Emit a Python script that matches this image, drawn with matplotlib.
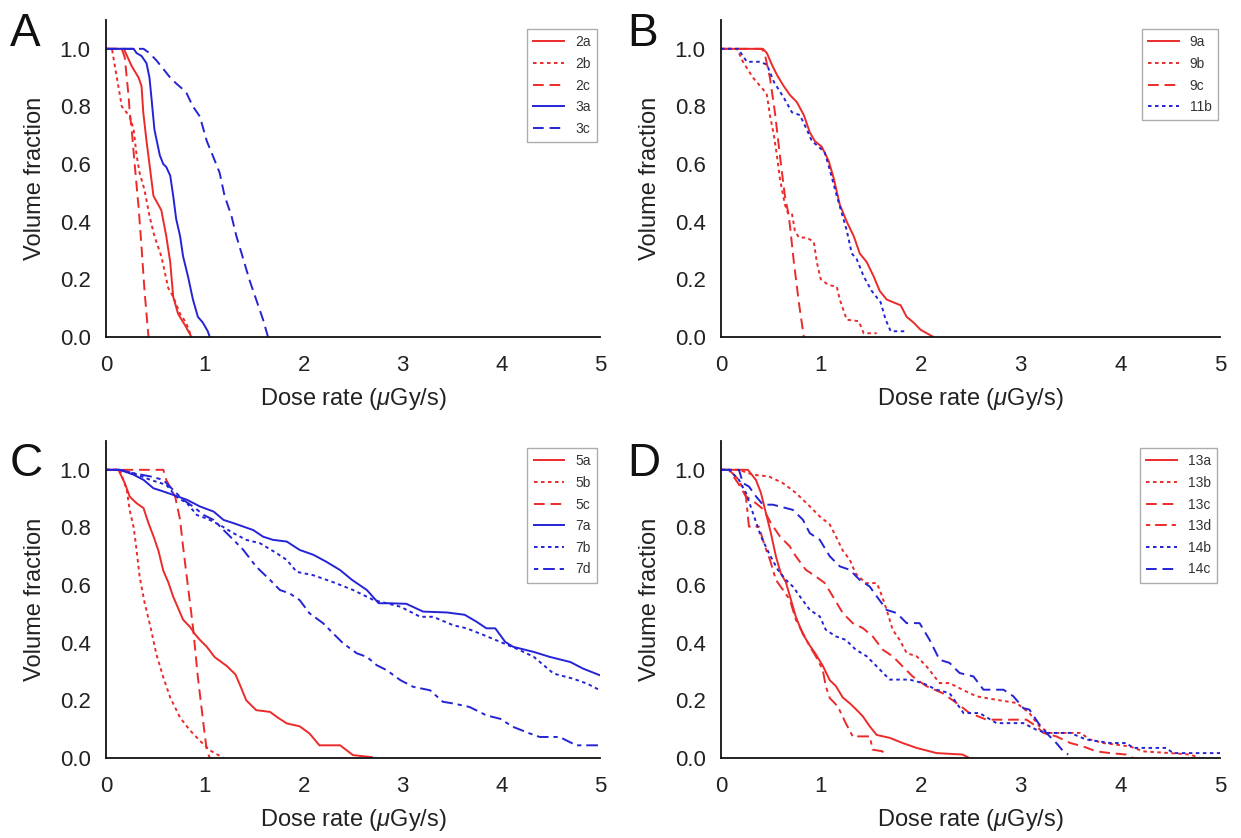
import matplotlib
matplotlib.use("Agg")
import matplotlib.pyplot as plt

plt.rcParams['font.family'] = ['Liberation Sans', 'DejaVu Sans']
plt.rcParams['mathtext.fontset'] = 'custom'
plt.rcParams['mathtext.rm'] = 'Liberation Sans'
plt.rcParams['mathtext.it'] = 'Liberation Sans:italic'

RED = '#ec2a2a'
BLUE = '#2424d6'

# ---------------- Panel A ----------------
a_2a_x = [0, 0.18, 0.26, 0.33, 0.36, 0.377, 0.41, 0.44, 0.48, 0.56, 0.61, 0.65, 0.68, 0.73, 0.81, 0.865]
a_2a_y = [1.0, 1.0, 0.94, 0.90, 0.87, 0.78, 0.68, 0.60, 0.49, 0.44, 0.35, 0.26, 0.14, 0.08, 0.035, 0.0]
a_2b_x = [0, 0.06, 0.16, 0.24, 0.28, 0.31, 0.34, 0.39, 0.44, 0.49, 0.56, 0.63, 0.68, 0.75, 0.81, 0.865]
a_2b_y = [1.0, 1.0, 0.80, 0.765, 0.72, 0.63, 0.57, 0.51, 0.42, 0.35, 0.28, 0.17, 0.14, 0.08, 0.05, 0.0]
a_2c_x = [0, 0.16, 0.19, 0.23, 0.24, 0.26, 0.29, 0.33, 0.36, 0.39, 0.43]
a_2c_y = [1.0, 1.0, 0.97, 0.83, 0.78, 0.72, 0.60, 0.45, 0.31, 0.16, 0.0]
a_3a_x = [0, 0.28, 0.31, 0.36, 0.41, 0.44, 0.46, 0.49, 0.545, 0.58, 0.61, 0.65, 0.68, 0.71, 0.75, 0.78, 0.83, 0.88, 0.93, 0.98, 1.03, 1.05]
a_3a_y = [1.0, 1.0, 0.985, 0.975, 0.95, 0.90, 0.83, 0.72, 0.63, 0.60, 0.59, 0.56, 0.49, 0.41, 0.35, 0.28, 0.21, 0.13, 0.07, 0.05, 0.02, 0.0]
a_3c_x = [0, 0.38, 0.44, 0.51, 0.58, 0.65, 0.71, 0.81, 0.88, 0.95, 1.02, 1.08, 1.15, 1.20, 1.27, 1.32, 1.39, 1.45, 1.52, 1.59, 1.64]
a_3c_y = [1.0, 1.0, 0.985, 0.96, 0.93, 0.90, 0.88, 0.85, 0.80, 0.765, 0.68, 0.63, 0.57, 0.49, 0.42, 0.35, 0.27, 0.20, 0.13, 0.06, 0.0]

# ---------------- Panel B ----------------
b_9a_x = [0, 0.42, 0.46, 0.51, 0.56, 0.62, 0.69, 0.76, 0.83, 0.89, 0.94, 1.01, 1.08, 1.13, 1.19, 1.26, 1.33, 1.39, 1.46, 1.53, 1.59, 1.66, 1.73, 1.80, 1.86, 1.93, 2.0, 2.13]
b_9a_y = [1.0, 1.0, 0.985, 0.945, 0.91, 0.875, 0.84, 0.815, 0.77, 0.71, 0.68, 0.66, 0.61, 0.55, 0.46, 0.40, 0.35, 0.29, 0.26, 0.21, 0.16, 0.13, 0.12, 0.11, 0.07, 0.05, 0.025, 0.0]
b_9b_x = [0, 0.16, 0.22, 0.32, 0.42, 0.46, 0.49, 0.53, 0.56, 0.59, 0.64, 0.67, 0.71, 0.74, 0.78, 0.86, 0.93, 0.96, 1.0, 1.08, 1.16, 1.19, 1.26, 1.38, 1.43, 1.56]
b_9b_y = [1.0, 1.0, 0.955, 0.90, 0.86, 0.84, 0.77, 0.70, 0.63, 0.55, 0.46, 0.43, 0.43, 0.37, 0.345, 0.345, 0.33, 0.26, 0.20, 0.18, 0.175, 0.13, 0.06, 0.055, 0.013, 0.013]
b_9c_x = [0, 0.41, 0.44, 0.49, 0.54, 0.59, 0.64, 0.68, 0.73, 0.78, 0.83]
b_9c_y = [1.0, 1.0, 0.98, 0.90, 0.78, 0.63, 0.49, 0.42, 0.26, 0.12, 0.0]
b_11b_x = [0, 0.17, 0.26, 0.39, 0.46, 0.53, 0.63, 0.71, 0.79, 0.86, 0.91, 0.98, 1.04, 1.09, 1.16, 1.21, 1.26, 1.31, 1.36, 1.43, 1.51, 1.60, 1.65, 1.70, 1.86]
b_11b_y = [1.0, 1.0, 0.955, 0.955, 0.945, 0.885, 0.83, 0.78, 0.77, 0.72, 0.68, 0.66, 0.64, 0.58, 0.49, 0.43, 0.37, 0.29, 0.27, 0.21, 0.16, 0.12, 0.06, 0.02, 0.02]

# ---------------- Panel C ----------------
c_5a_x = [0, 0.125, 0.19, 0.24, 0.31, 0.38, 0.43, 0.48, 0.53, 0.58, 0.63, 0.68, 0.73, 0.78, 0.85, 0.90, 0.95, 1.02, 1.10, 1.22, 1.31, 1.36, 1.42, 1.52, 1.66, 1.74, 1.83, 1.96, 2.06, 2.16, 2.37, 2.50, 2.69]
c_5a_y = [1.0, 1.0, 0.954, 0.907, 0.884, 0.867, 0.815, 0.77, 0.72, 0.65, 0.61, 0.56, 0.52, 0.48, 0.455, 0.43, 0.41, 0.386, 0.35, 0.32, 0.29, 0.25, 0.20, 0.166, 0.16, 0.14, 0.12, 0.11, 0.085, 0.044, 0.044, 0.01, 0.003]
c_5b_x = [0, 0.14, 0.21, 0.24, 0.28, 0.31, 0.34, 0.39, 0.45, 0.51, 0.58, 0.65, 0.75, 0.85, 0.95, 1.05, 1.19]
c_5b_y = [1.0, 1.0, 0.93, 0.86, 0.80, 0.72, 0.63, 0.54, 0.455, 0.36, 0.28, 0.21, 0.14, 0.096, 0.06, 0.027, 0.0]
c_5c_x = [0, 0.58, 0.61, 0.70, 0.75, 0.78, 0.83, 0.88, 0.93, 0.99, 1.02, 1.05]
c_5c_y = [1.0, 1.0, 0.965, 0.907, 0.826, 0.733, 0.594, 0.455, 0.28, 0.108, 0.027, 0.0]
c_7a_x = [0, 0.14, 0.28, 0.38, 0.48, 0.58, 0.68, 0.82, 0.95, 1.09, 1.19, 1.29, 1.39, 1.49, 1.59, 1.69, 1.83, 1.96, 2.10, 2.23, 2.37, 2.49, 2.64, 2.76, 2.87, 3.04, 3.21, 3.45, 3.63, 3.75, 3.85, 3.94, 4.04, 4.12, 4.33, 4.49, 4.70, 4.83, 5.0]
c_7a_y = [1.0, 1.0, 0.983, 0.965, 0.936, 0.925, 0.913, 0.896, 0.873, 0.855, 0.826, 0.815, 0.803, 0.791, 0.768, 0.757, 0.751, 0.722, 0.705, 0.681, 0.652, 0.618, 0.583, 0.537, 0.537, 0.535, 0.508, 0.505, 0.497, 0.473, 0.45, 0.45, 0.403, 0.386, 0.368, 0.351, 0.333, 0.31, 0.287]
c_7b_x = [0, 0.14, 0.28, 0.45, 0.61, 0.71, 0.82, 0.92, 1.02, 1.15, 1.29, 1.42, 1.56, 1.73, 1.83, 1.93, 2.10, 2.30, 2.50, 2.71, 2.98, 3.18, 3.31, 3.52, 3.65, 3.82, 3.99, 4.19, 4.33, 4.53, 4.73, 4.87, 5.0]
c_7b_y = [1.0, 1.0, 0.988, 0.965, 0.948, 0.907, 0.884, 0.843, 0.831, 0.809, 0.78, 0.757, 0.745, 0.71, 0.687, 0.646, 0.634, 0.61, 0.583, 0.548, 0.525, 0.49, 0.49, 0.46, 0.45, 0.427, 0.403, 0.374, 0.351, 0.293, 0.275, 0.258, 0.235]
c_7d_x = [0, 0.14, 0.28, 0.45, 0.58, 0.68, 0.78, 0.88, 0.99, 1.09, 1.19, 1.29, 1.39, 1.52, 1.66, 1.76, 1.86, 1.96, 2.06, 2.20, 2.30, 2.40, 2.54, 2.64, 2.74, 2.84, 2.98, 3.11, 3.28, 3.41, 3.52, 3.68, 3.85, 3.99, 4.12, 4.29, 4.39, 4.59, 4.76, 5.0]
c_7d_y = [1.0, 1.0, 0.988, 0.977, 0.965, 0.93, 0.896, 0.873, 0.843, 0.826, 0.791, 0.757, 0.722, 0.664, 0.618, 0.583, 0.571, 0.548, 0.502, 0.467, 0.432, 0.398, 0.363, 0.351, 0.322, 0.305, 0.27, 0.247, 0.235, 0.195, 0.189, 0.177, 0.148, 0.136, 0.108, 0.085, 0.073, 0.073, 0.044, 0.044]

# ---------------- Panel D ----------------
d_13a_x = [0, 0.27, 0.35, 0.40, 0.45, 0.50, 0.55, 0.60, 0.65, 0.70, 0.75, 0.82, 0.89, 0.95, 1.02, 1.09, 1.15, 1.22, 1.29, 1.35, 1.42, 1.49, 1.56, 1.69, 1.82, 1.96, 2.16, 2.42, 2.49]
d_13a_y = [1.0, 1.0, 0.965, 0.92, 0.85, 0.78, 0.70, 0.64, 0.61, 0.55, 0.49, 0.43, 0.39, 0.36, 0.32, 0.27, 0.25, 0.21, 0.19, 0.17, 0.145, 0.11, 0.08, 0.07, 0.052, 0.035, 0.017, 0.012, 0.0]
d_13b_x = [0, 0.18, 0.32, 0.48, 0.62, 0.75, 0.89, 0.99, 1.09, 1.15, 1.22, 1.29, 1.35, 1.45, 1.56, 1.59, 1.66, 1.72, 1.79, 1.86, 1.96, 2.06, 2.19, 2.29, 2.42, 2.56, 2.76, 2.96, 3.09, 3.19, 3.29, 3.60, 3.70, 3.83, 4.10, 4.23, 4.50, 4.70, 4.80]
d_13b_y = [1.0, 1.0, 0.983, 0.977, 0.954, 0.92, 0.873, 0.838, 0.81, 0.77, 0.72, 0.688, 0.64, 0.607, 0.607, 0.584, 0.514, 0.445, 0.41, 0.364, 0.353, 0.318, 0.26, 0.26, 0.237, 0.214, 0.202, 0.191, 0.156, 0.11, 0.087, 0.087, 0.064, 0.052, 0.04, 0.023, 0.017, 0.012, 0.0]
d_13c_x = [0, 0.08, 0.17, 0.25, 0.35, 0.43, 0.50, 0.59, 0.69, 0.75, 0.85, 0.95, 1.04, 1.12, 1.22, 1.32, 1.42, 1.52, 1.62, 1.72, 1.82, 1.92, 2.06, 2.22, 2.36, 2.49, 2.66, 3.06, 3.16, 3.23, 3.36, 3.50, 3.63, 3.76, 3.90, 4.06, 4.13]
d_13c_y = [1.0, 1.0, 0.954, 0.908, 0.884, 0.861, 0.815, 0.769, 0.734, 0.70, 0.653, 0.63, 0.607, 0.561, 0.503, 0.468, 0.451, 0.422, 0.376, 0.353, 0.318, 0.283, 0.249, 0.225, 0.191, 0.156, 0.133, 0.133, 0.11, 0.087, 0.075, 0.052, 0.04, 0.023, 0.017, 0.012, 0.0]
d_13d_x = [0, 0.08, 0.18, 0.25, 0.28, 0.38, 0.44, 0.49, 0.55, 0.62, 0.69, 0.75, 0.82, 0.89, 0.95, 1.02, 1.05, 1.09, 1.17, 1.25, 1.32, 1.49, 1.52, 1.62, 1.63]
d_13d_y = [1.0, 1.0, 0.965, 0.907, 0.803, 0.803, 0.734, 0.688, 0.618, 0.584, 0.549, 0.48, 0.434, 0.387, 0.353, 0.306, 0.249, 0.208, 0.179, 0.121, 0.075, 0.075, 0.029, 0.023, 0.0]
d_14b_x = [0, 0.08, 0.18, 0.25, 0.32, 0.40, 0.48, 0.57, 0.65, 0.72, 0.79, 0.89, 0.99, 1.05, 1.15, 1.25, 1.35, 1.46, 1.56, 1.69, 1.89, 2.02, 2.16, 2.29, 2.43, 2.59, 2.76, 3.03, 3.16, 3.26, 3.50, 3.66, 3.90, 4.06, 4.13, 4.46, 4.53, 5.0]
d_14b_y = [1.0, 1.0, 0.965, 0.92, 0.85, 0.769, 0.711, 0.653, 0.618, 0.595, 0.561, 0.514, 0.491, 0.445, 0.422, 0.41, 0.376, 0.353, 0.318, 0.272, 0.272, 0.26, 0.237, 0.225, 0.156, 0.156, 0.121, 0.121, 0.098, 0.087, 0.087, 0.064, 0.052, 0.052, 0.035, 0.035, 0.017, 0.017]
d_14c_x = [0, 0.18, 0.22, 0.28, 0.35, 0.42, 0.52, 0.72, 0.82, 0.89, 0.99, 1.09, 1.19, 1.29, 1.39, 1.49, 1.56, 1.66, 1.76, 1.86, 1.99, 2.09, 2.19, 2.29, 2.39, 2.53, 2.63, 2.83, 2.93, 3.03, 3.09, 3.18, 3.26, 3.36, 3.43, 3.48]
d_14c_y = [1.0, 1.0, 0.954, 0.942, 0.908, 0.879, 0.879, 0.861, 0.827, 0.78, 0.757, 0.70, 0.665, 0.653, 0.618, 0.595, 0.561, 0.514, 0.503, 0.468, 0.468, 0.41, 0.341, 0.33, 0.295, 0.283, 0.237, 0.237, 0.214, 0.173, 0.168, 0.121, 0.087, 0.052, 0.023, 0.012]

xticks = [0, 1, 2, 3, 4, 5]
yticks = [0.0, 0.2, 0.4, 0.6, 0.8, 1.0]
xlabel = r'Dose rate ($\mu$Gy/s)'
ylabel = 'Volume fraction'

STY = {
    'solid': '-',
    'dot': (0, (1.8, 1.8)),
    'dash': (0, (5.5, 3.0)),
    'dashdot': (0, (2.2, 2.5, 6.0, 2.5)),
}

panels = [
    ('A', [(a_2a_x, a_2a_y, '2a', RED, 'solid'), (a_2b_x, a_2b_y, '2b', RED, 'dot'),
           (a_2c_x, a_2c_y, '2c', RED, 'dash'), (a_3a_x, a_3a_y, '3a', BLUE, 'solid'),
           (a_3c_x, a_3c_y, '3c', BLUE, 'dash')]),
    ('B', [(b_9a_x, b_9a_y, '9a', RED, 'solid'), (b_9b_x, b_9b_y, '9b', RED, 'dot'),
           (b_9c_x, b_9c_y, '9c', RED, 'dash'), (b_11b_x, b_11b_y, '11b', BLUE, 'dot')]),
    ('C', [(c_5a_x, c_5a_y, '5a', RED, 'solid'), (c_5b_x, c_5b_y, '5b', RED, 'dot'),
           (c_5c_x, c_5c_y, '5c', RED, 'dash'), (c_7a_x, c_7a_y, '7a', BLUE, 'solid'),
           (c_7b_x, c_7b_y, '7b', BLUE, 'dot'), (c_7d_x, c_7d_y, '7d', BLUE, 'dashdot')]),
    ('D', [(d_13a_x, d_13a_y, '13a', RED, 'solid'), (d_13b_x, d_13b_y, '13b', RED, 'dot'),
           (d_13c_x, d_13c_y, '13c', RED, 'dash'), (d_13d_x, d_13d_y, '13d', RED, 'dashdot'),
           (d_14b_x, d_14b_y, '14b', BLUE, 'dot'), (d_14c_x, d_14c_y, '14c', BLUE, 'dash')]),
]

W, H = 1241, 838
fig = plt.figure(figsize=(W / 100, H / 100), dpi=100)

# axes rectangles in pixels: left, right, top(1.1), bottom(0)
rects = {
    'A': (106, 600, 20, 337),
    'B': (721, 1220, 20, 337),
    'C': (106, 600, 441, 758),
    'D': (721, 1220, 441, 758),
}
legend_anchor = {
    'A': (597, 29),
    'B': (1218, 29),
    'C': (597, 448),
    'D': (1217, 448),
}
letter_pos = {
    'A': (10, 12),
    'B': (627, 12),
    'C': (10, 442),
    'D': (627, 442),
}

FS = 16
for name, series in panels:
    l, r, t, b = rects[name]
    ax = fig.add_axes([l / W, 1 - b / H, (r - l) / W, (b - t) / H])
    for xs, ys, lab, col, sty in series:
        ax.plot(xs, ys, color=col, linestyle=STY[sty], lw=1.4, label=lab)
    ax.set_xlim(0, 5)
    ax.set_ylim(0, 1.1)
    ax.set_xticks(xticks)
    ax.set_xticklabels([str(v) for v in xticks])
    ax.set_yticks(yticks)
    ax.set_yticklabels(['%.1f' % v for v in yticks])
    ax.tick_params(axis='both', length=0, labelsize=FS, colors='#222222')
    ax.tick_params(axis='y', pad=11)
    ax.tick_params(axis='x', pad=13)
    for s in ['top', 'right']:
        ax.spines[s].set_visible(False)
    for s in ['left', 'bottom']:
        ax.spines[s].set_linewidth(1.3)
        ax.spines[s].set_color('#111111')
    ax.set_xlabel(xlabel, fontsize=FS + 1, labelpad=7, color='#222222')
    ax.set_ylabel(ylabel, fontsize=FS + 1, labelpad=10, color='#222222')
    lx, ly = legend_anchor[name]
    leg = ax.legend(loc='upper right',
                    bbox_to_anchor=((lx - l) / (r - l), (b - ly) / (b - t)),
                    fontsize=10, frameon=True, fancybox=False,
                    borderaxespad=0, handlelength=2.2, labelspacing=0.55,
                    borderpad=0.45, handletextpad=0.8)
    leg.get_frame().set_edgecolor('#999999')
    leg.get_frame().set_linewidth(1.0)
    for txt in leg.get_texts():
        txt.set_color('#333333')
    px, py = letter_pos[name]
    fig.text(px / W, 1 - py / H, name, fontsize=33, ha='left', va='top', color='#111111')

fig.savefig('out.png', dpi=100)
